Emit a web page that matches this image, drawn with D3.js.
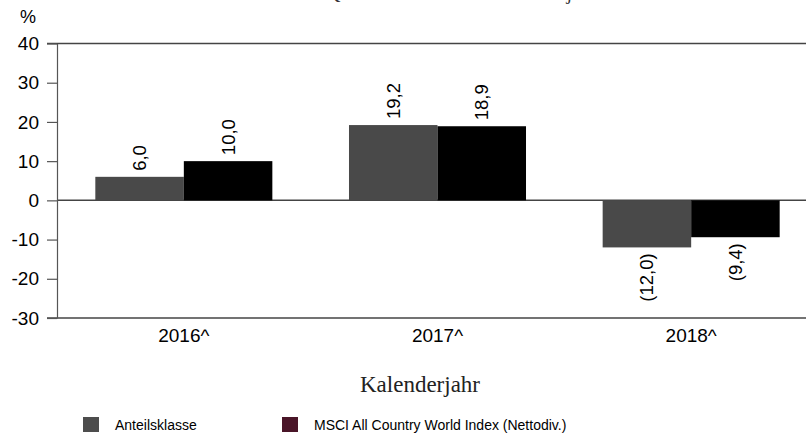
<!DOCTYPE html>
<html>
<head>
  <meta charset="utf-8">
  <style>
  body { margin: 0; background: #fff; }
  svg { display: block; }
  text { font-family: "Liberation Sans", Arial, sans-serif; }
  .axis text { font-size: 19px; fill: #000; }
  .axis path, .axis line { stroke: #555; stroke-width: 1.2; }
  .rule { stroke: #444; stroke-width: 1.5; }
  .serif { font-family: "Liberation Serif", "Times New Roman", serif; }
  </style>
</head>
<body>
<script src="https://d3js.org/d3.v7.min.js"></script>
<script>
  // values
  var years = ["2016^", "2017^", "2018^"];
  var seriesNames = ["Anteilsklasse", "MSCI All Country World Index (Nettodiv.)"];
  var anteilsklasse = [6.0, 19.2, -12.0];
  var msci = [10.0, 18.9, -9.4];
  var yTicks = [40, 30, 20, 10, 0, -10, -20, -30];
  var barColors = ["#494949", "#000000"];
  var legendColors = ["#4d4d4d", "#4a1528"];

  var width = 806, height = 433;
  var plotLeft = 57, plotTop = 43.5, plotBottom = 318;

  var svg = d3.select("body").append("svg")
      .attr("width", width)
      .attr("height", height);

  // clipped title, only descenders show at the top edge
  svg.append("text")
      .attr("class", "serif")
      .attr("x", 326)
      .attr("y", -1)
      .attr("font-size", 20)
      .attr("fill", "#333")
      .text("Quellen: Rendite im Kalenderjahr");

  var x0 = d3.scaleBand()
      .domain(years)
      .range([plotLeft, plotLeft + 761]);

  var x1 = d3.scaleBand()
      .domain(seriesNames)
      .range([0, x0.bandwidth()])
      .paddingOuter(0.433);

  var y = d3.scaleLinear()
      .domain([-30, 40])
      .range([plotBottom, plotTop]);

  // horizontal rules at 40, 0 and -30
  svg.selectAll("line.rule")
      .data([40, 0, -30])
    .enter().append("line")
      .attr("class", "rule")
      .attr("x1", function(d) { return d === 0 ? plotLeft : plotLeft - 10; })
      .attr("x2", width)
      .attr("y1", function(d) { return y(d); })
      .attr("y2", function(d) { return y(d); });

  svg.append("g")
      .attr("class", "axis")
      .attr("transform", "translate(" + plotLeft + ",0)")
      .call(d3.axisLeft(y)
        .tickValues(yTicks)
        .tickFormat(function(d) { return String(d); })
        .tickSize(10).tickPadding(8).tickSizeOuter(0));

  svg.append("text")
      .attr("x", 20)
      .attr("y", 23)
      .attr("font-size", 18)
      .text("%");

  var rows = years.map(function(yr, i) {
    return { year: yr, values: [anteilsklasse[i], msci[i]] };
  });

  var groups = svg.append("g").selectAll("g")
      .data(rows)
    .enter().append("g")
      .attr("transform", function(d) { return "translate(" + x0(d.year) + ",0)"; });

  var bars = groups.selectAll("g")
      .data(function(d) {
        return d.values.map(function(v, j) { return { name: seriesNames[j], value: v, j: j }; });
      })
    .enter().append("g");

  bars.append("rect")
      .attr("x", function(d) { return x1(d.name); })
      .attr("width", x1.bandwidth())
      .attr("y", function(d) { return y(Math.max(0, d.value)); })
      .attr("height", function(d) { return Math.abs(y(d.value) - y(0)); })
      .attr("fill", function(d) { return barColors[d.j]; });

  var fmt = function(v) {
    var s = Math.abs(v).toFixed(1).replace(".", ",");
    return v < 0 ? "(" + s + ")" : s;
  };

  bars.append("text")
      .attr("transform", function(d) {
        var cx = x1(d.name) + x1.bandwidth() / 2;
        var cy = d.value >= 0 ? y(d.value) - 6 : y(d.value) + 6;
        return "translate(" + cx + "," + cy + ") rotate(-90)";
      })
      .attr("text-anchor", function(d) { return d.value >= 0 ? "start" : "end"; })
      .attr("dy", "0.35em")
      .attr("font-size", 18.5)
      .text(function(d) { return fmt(d.value); });

  // x labels
  svg.append("g").selectAll("text")
      .data(years)
    .enter().append("text")
      .attr("x", function(d) { return x0(d) + x0.bandwidth() / 2; })
      .attr("y", 342)
      .attr("text-anchor", "middle")
      .attr("font-size", 19)
      .text(function(d) { return d; });

  svg.append("text")
      .attr("class", "serif")
      .attr("x", 420)
      .attr("y", 392)
      .attr("text-anchor", "middle")
      .attr("font-size", 23)
      .attr("fill", "#222")
      .text("Kalenderjahr");

  // legend
  var legendX = [83, 282];
  var legend = svg.append("g").selectAll("g")
      .data(seriesNames)
    .enter().append("g")
      .attr("transform", function(d, i) { return "translate(" + legendX[i] + ",417)"; });

  legend.append("rect")
      .attr("width", 16)
      .attr("height", 15)
      .attr("fill", function(d, i) { return legendColors[i]; });

  legend.append("text")
      .attr("x", 32)
      .attr("y", 13)
      .attr("font-size", 14)
      .text(function(d) { return d; });
</script>
</body>
</html>
